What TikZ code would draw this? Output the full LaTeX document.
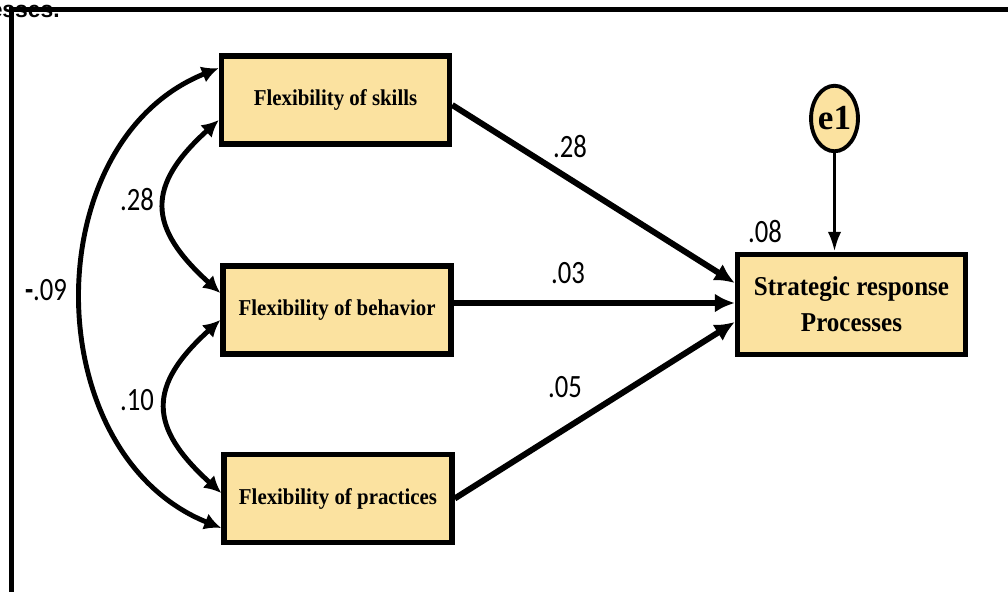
\documentclass[tikz,border=0pt]{standalone}
\usepackage{fontspec}
\setmainfont{Liberation Serif}
\newfontfamily\boxfont[FakeStretch=0.92]{Liberation Serif}
\newfontfamily\numfont[FakeStretch=0.82]{Carlito}
\newfontfamily\capfont{Liberation Sans}
\usetikzlibrary{shapes.geometric, arrows.meta, calc}
\definecolor{boxyellow}{RGB}{251,226,160}

\tikzset{
  varbox/.style={rectangle, draw=black, line width=3.1pt, fill=boxyellow,
    minimum width=4.56cm, minimum height=1.76cm,
    font=\boxfont\bfseries\fontsize{12.9}{15}\selectfont},
  coef/.style={font=\numfont\fontsize{18.5}{20}\selectfont},
  effect/.style={line width=3.4pt, -{Latex[length=0.4cm,width=0.38cm]}},
  covar/.style={line width=2.8pt, {Latex[length=0.34cm,width=0.34cm]}-{Latex[length=0.34cm,width=0.34cm]}}
}

\begin{document}
\begin{tikzpicture}
\useasboundingbox (0,0) rectangle (20.16,11.82);

% Frame
\node[font=\capfont\bfseries\fontsize{13}{15}\selectfont, anchor=base east, inner sep=0pt] (caption) at (1.2,11.48) {esses.};
\draw[line width=0.1cm] (0.22,-0.1) |- (20.3,11.64);

% Predictors
\node[varbox] (skills) at (6.71,9.82) {Flexibility of skills};
\node[varbox] (behavior) at (6.74,5.62) {Flexibility of behavior};
\node[varbox] (practices) at (6.76,1.85) {Flexibility of practices};

% Outcome and error
\node[varbox, minimum height=2.0cm, align=center,
  font=\boxfont\bfseries\fontsize{15.5}{20.5}\selectfont] (target) at (17.03,5.73) {Strategic response\\Processes};
\node[ellipse, draw, line width=2.2pt, fill=boxyellow, minimum width=0.87cm, minimum height=1.31cm,
  inner sep=0pt, font=\bfseries\fontsize{20}{22}\selectfont] (e1) at (16.69,9.45) {e1};

% Paths
\foreach \src/\a/\b in {skills/-0.1/0.43, behavior/0.14/0.03, practices/0/-0.35} {
    \draw[effect] ([yshift=\a cm]\src.east) -- ([yshift=\b cm]target.west);
}
\draw[line width=2pt, -{Latex[length=0.4cm,width=0.27cm]}] (e1.south) -- (e1.south |- target.north);

% Covariances
\draw[covar] ([yshift=0.64cm]skills.west) .. controls +(-3.68,-1.48) and +(-3.68,1.48) .. ([yshift=-0.59cm]practices.west);
\draw[covar] ([yshift=-0.4cm]skills.west) .. controls +(-1.46,-1.32) and +(-1.46,1.32) .. ([yshift=0.34cm]behavior.west);
\draw[covar] ([yshift=-0.2cm]behavior.west) .. controls +(-1.46,-1.32) and +(-1.46,1.32) .. ([yshift=0.11cm]practices.west);

% Labels
\node[coef] (b1) at (11.4,8.88) {.28};
\node[coef] (b2) at (11.36,6.36) {.03};
\node[coef] (b3) at (11.3,4.08) {.05};
\node[coef] (r2) at (15.3,7.18) {.08};
\node[coef] (c12) at (2.74,7.82) {.28};
\node[coef] (c23) at (2.74,3.82) {.10};
\node[coef] (c13) at (0.92,6.02) {{\bfseries -}.09};
\end{tikzpicture}
\end{document}
